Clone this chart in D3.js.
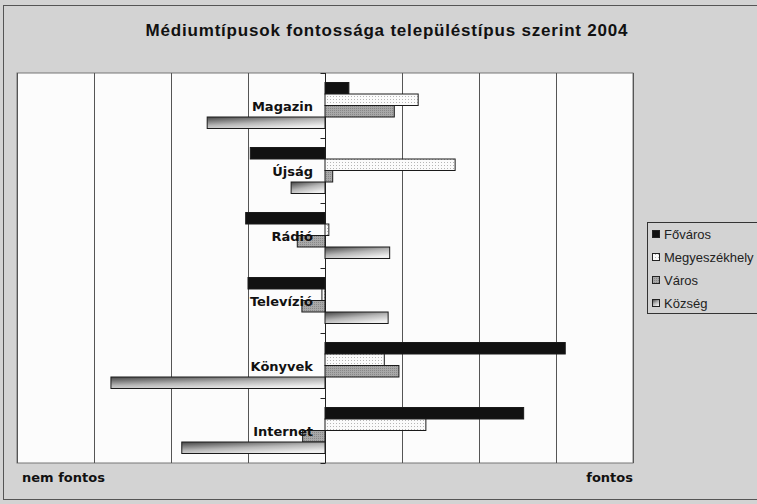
<!DOCTYPE html>
<html>
<head>
<meta charset="utf-8">
<script src="https://cdn.jsdelivr.net/npm/d3@7.9.0/dist/d3.min.js"></script>
<style>
  html, body { margin: 0; padding: 0; background: #d3d3d3; }
  svg { display: block; }
</style>
</head>
<body>
<svg id="chart" width="757" height="504"></svg>
<script>
const categories = ['Magazin', 'Újság', 'Rádió', 'Televízió', 'Könyvek', 'Internet'];
const seriesNames = ['Főváros', 'Megyeszékhely', 'Város', 'Község'];
// one array per series, in gridline units
const fovaros = [0.31, -0.97, -1.03, -1.0, 3.12, 2.58];
const megyeszekhely = [1.21, 1.69, 0.05, -0.04, 0.77, 1.31];
const varos = [0.9, 0.1, -0.36, -0.3, 0.96, -0.29];
const kozseg = [-1.53, -0.44, 0.84, 0.82, -2.78, -1.86];
const seriesValues = [fovaros, megyeszekhely, varos, kozseg];
const gridTicks = [-4, -3, -2, -1, 0, 1, 2, 3, 4];

const svg = d3.select('#chart');
const plot = { left: 17, right: 633, top: 73, bottom: 463 };

// defs: fills like the old Excel patterns
const defs = svg.append('defs');
const dots = defs.append('pattern').attr('id', 'dots').attr('width', 3).attr('height', 3)
  .attr('patternUnits', 'userSpaceOnUse');
dots.append('rect').attr('width', 3).attr('height', 3).attr('fill', '#fbfbfb');
dots.append('rect').attr('width', 1).attr('height', 1).attr('fill', '#b5b5b5');
const grayDots = defs.append('pattern').attr('id', 'grayDots').attr('width', 2).attr('height', 2)
  .attr('patternUnits', 'userSpaceOnUse');
grayDots.append('rect').attr('width', 2).attr('height', 2).attr('fill', '#a8a8a8');
grayDots.append('rect').attr('width', 1).attr('height', 1).attr('fill', '#888');
const grad = defs.append('linearGradient').attr('id', 'fade')
  .attr('x1', 0).attr('y1', 0).attr('x2', 0.6).attr('y2', 1);
grad.append('stop').attr('offset', '0%').attr('stop-color', '#444');
grad.append('stop').attr('offset', '55%').attr('stop-color', '#b5b5b5');
grad.append('stop').attr('offset', '100%').attr('stop-color', '#f0f0f0');

const fills = ['#111', 'url(#dots)', 'url(#grayDots)', 'url(#fade)'];

// outer frame
svg.append('rect').attr('x', 3.5).attr('y', 5.5).attr('width', 760).attr('height', 494)
  .attr('fill', 'none').attr('stroke', '#555').attr('stroke-width', 1);

svg.append('text')
  .attr('x', 387).attr('y', 36)
  .attr('text-anchor', 'middle')
  .attr('font-family', 'Liberation Sans, Arial, sans-serif')
  .attr('font-weight', 'bold')
  .attr('font-size', 17)
  .attr('letter-spacing', 0.8)
  .attr('fill', '#111')
  .text('Médiumtípusok fontossága településtípus szerint 2004');

const x = d3.scaleLinear().domain([-4, 4]).range([plot.left, plot.right]);
const y = d3.scaleBand().domain(categories).range([plot.top, plot.bottom]);
const ySub = d3.scaleBand().domain(seriesNames).range([9.5, y.bandwidth() - 9.5]);

svg.append('rect')
  .attr('x', plot.left).attr('y', plot.top)
  .attr('width', plot.right - plot.left).attr('height', plot.bottom - plot.top)
  .attr('fill', '#fcfcfc').attr('stroke', '#777');

svg.append('g').selectAll('line').data(gridTicks).join('line')
  .attr('x1', d => x(d) + 0.5).attr('x2', d => x(d) + 0.5)
  .attr('y1', plot.top).attr('y2', plot.bottom)
  .attr('stroke', d => d === 0 ? '#222' : '#555')
  .attr('stroke-width', 1);

// bars
categories.forEach((cat, i) => {
  seriesNames.forEach((s, j) => {
    const v = seriesValues[j][i];
    svg.append('rect')
      .attr('x', x(Math.min(0, v)))
      .attr('y', y(cat) + ySub(s))
      .attr('width', Math.abs(x(v) - x(0)))
      .attr('height', ySub.bandwidth())
      .attr('fill', fills[j])
      .attr('stroke', '#1a1a1a')
      .attr('stroke-width', 1);
  });
});

// category axis at zero: ticks between groups
const axis = d3.axisLeft(d3.scaleLinear().domain([0, categories.length]).range([plot.top, plot.bottom]))
  .ticks(categories.length).tickSize(5).tickFormat('');
svg.append('g').attr('transform', `translate(${x(0) + 0.5},0)`).call(axis)
  .call(g => g.select('.domain').remove())
  .selectAll('line').attr('stroke', '#222');

svg.append('g').selectAll('text').data(categories).join('text')
  .attr('x', x(0) - 12)
  .attr('y', d => y(d) + y.bandwidth() / 2 + 5)
  .attr('text-anchor', 'end')
  .attr('font-family', 'DejaVu Sans, Verdana, sans-serif')
  .attr('font-weight', 'bold')
  .attr('font-size', 13)
  .attr('fill', '#111')
  .text(d => d);

// bottom labels
svg.append('text').attr('x', 22).attr('y', 482)
  .attr('font-family', 'DejaVu Sans, Verdana, sans-serif').attr('font-weight', 'bold')
  .attr('font-size', 13).attr('fill', '#111').text('nem fontos');
svg.append('text').attr('x', plot.right).attr('y', 482).attr('text-anchor', 'end')
  .attr('font-family', 'DejaVu Sans, Verdana, sans-serif').attr('font-weight', 'bold')
  .attr('font-size', 13).attr('fill', '#111').text('fontos');

// legend
const legend = svg.append('g').attr('transform', 'translate(647,222)');
legend.append('rect').attr('x', 0.5).attr('y', 0.5).attr('width', 115).attr('height', 91)
  .attr('fill', 'none').attr('stroke', '#333');
const items = legend.selectAll('g').data(seriesNames).join('g')
  .attr('transform', (d, i) => `translate(5,${12 + i * 23})`);
items.append('rect').attr('x', 0.5).attr('y', -3.5).attr('width', 7).attr('height', 7)
  .attr('fill', (d, i) => fills[i]).attr('stroke', '#222');
items.append('text').attr('x', 12).attr('y', 4.5)
  .attr('font-family', 'Liberation Sans, Arial, sans-serif').attr('font-size', 13)
  .attr('fill', '#222').text(d => d);
</script>
</body>
</html>
